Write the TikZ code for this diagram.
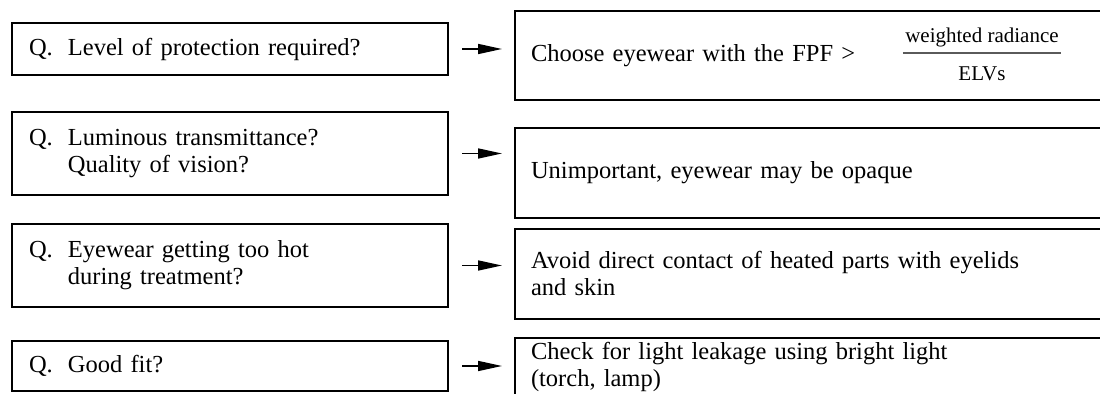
\documentclass[tikz,border=0pt]{standalone}
\usepackage{fontspec}
\setmainfont{Liberation Serif}
\usetikzlibrary{arrows.meta,positioning}

\definecolor{barGray}{HTML}{5A5A5A}

\newcommand{\qtag}{\makebox[19.5pt][l]{Q.}}
\newcommand{\qindent}{\hspace*{19.5pt}}

\begin{document}
\begin{tikzpicture}[
  x=0.5pt, y=-0.5pt,
  qbox/.style={draw, line width=1pt, anchor=north west,
               minimum width=218pt, text width=201pt, inner xsep=8.5pt, inner ysep=1pt,
               align=left, font=\fontsize{12.25}{13.5}\selectfont},
  abox/.style={draw, line width=1pt, anchor=north west,
               minimum width=320pt, text width=304pt, inner xsep=8pt, inner ysep=1pt,
               minimum height=45pt,
               align=left, font=\fontsize{12.25}{13.5}\selectfont},
  fracpart/.style={inner xsep=1pt, inner ysep=3pt, font=\fontsize{10.5}{12}\selectfont},
  arr/.style={-{Triangle[length=12pt, width=5pt]}, line width=0.8pt,
              shorten <=6.5pt, shorten >=6pt},
]
\useasboundingbox (0,0) rectangle (1100,394);
\clip (0,0) rectangle (1100,394);

% questions
\node[qbox, minimum height=26pt]   (q1) at (11,22)  {\qtag Level of protection required?};
\node[qbox, minimum height=41.5pt] (q2) at (11,111) {\qtag Luminous transmittance?\\
                                                     \qindent Quality of vision?};
\node[qbox, minimum height=41.5pt] (q3) at (11,223) {\qtag Eyewear getting too hot\\
                                                     \qindent during treatment?};
\node[qbox, minimum height=25pt]   (q4) at (11,340) {\qtag Good fit?};

% answers
\node[abox, minimum height=44.5pt] (a1) at (514,10)  {Choose eyewear with the FPF >};
\node[abox]                        (a2) at (514,127) {Unimportant, eyewear may be opaque};
\node[abox]                        (a3) at (514,228) {Avoid direct contact of heated parts with eyelids\\
                                                      and skin};
\node[abox, minimum height=29pt]   (a4) at (514,337) {Check for light leakage using bright light\\
                                                      (torch, lamp)};

% ratio inside the first answer
\node[fracpart, anchor=south] (num) at (982,53) {weighted radiance};
\node[fracpart, anchor=base]  (den) at (982,81) {ELVs};
\draw[barGray, line width=1pt] (num.south west) -- (num.south east);

\foreach \i in {1,...,4}
  \draw[arr] (q\i.east) -- (q\i.east -| a\i.west);
\end{tikzpicture}
\end{document}
